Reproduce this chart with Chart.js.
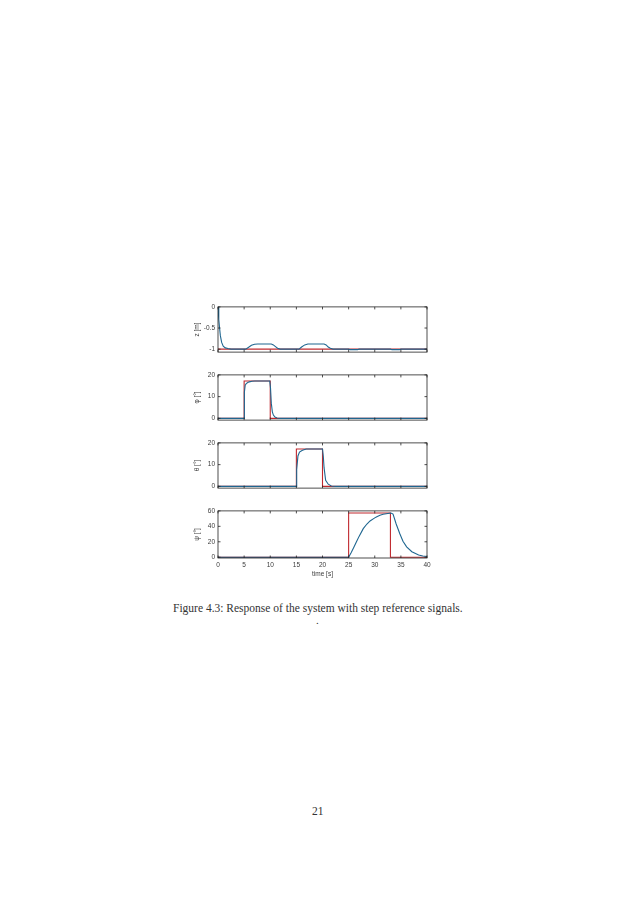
<!DOCTYPE html>
<html>
<head>
<meta charset="utf-8">
<script src="https://cdn.jsdelivr.net/npm/chart.js@4/dist/chart.umd.min.js"></script>
<style>
  body { margin: 0; background: #fff; width: 638px; height: 903px; position: relative; overflow: hidden; }
  canvas { position: absolute; }
  .txt { position: absolute; font-family: "Liberation Serif", serif; color: #333; white-space: nowrap; }
</style>
</head>
<body>
<canvas id="c-z" width="255" height="59"></canvas>
<canvas id="c-phi" width="255" height="59"></canvas>
<canvas id="c-theta" width="255" height="59"></canvas>
<canvas id="c-psi" width="255" height="76"></canvas>
<div class="txt" id="caption" style="top:602px;left:173px;font-size:11.5px">Figure 4.3: Response of the system with step reference signals.</div>
<div class="txt" style="top:614px;left:316px;font-size:11px">.</div>
<div class="txt" style="top:805px;left:312px;font-size:11.5px">21</div>

<script>
// shared x axis
const timeTicks = [0, 5, 10, 15, 20, 25, 30, 35, 40];

// z [m]
const zTicks = [-1, -0.5, 0];
const zRefT = [0, 40];
const zRefV = [-1, -1];
const zT = [0, 0.15, 0.3, 0.45, 0.7, 1.0, 1.4, 1.9, 2.5, 5.3, 5.8, 6.4, 7.0, 7.6, 10.2, 10.6, 11.0, 11.4, 11.9,
            15.5, 16.0, 16.6, 17.2, 17.6, 20.3, 20.7, 21.1, 21.5, 22.0, 25.0, 25.3, 26.7, 27.0, 33.0, 33.3, 34.7, 35.0, 40];
const zV = [0, -0.3, -0.5, -0.68, -0.84, -0.93, -0.97, -0.985, -1, -1, -0.96, -0.91, -0.885, -0.88, -0.88, -0.9, -0.94, -0.98, -1,
            -1, -0.95, -0.9, -0.88, -0.88, -0.88, -0.9, -0.95, -0.98, -1, -1, -1.012, -1.012, -1, -1, -1.012, -1.012, -1, -1];

// phi [deg]
const angTicks = [0, 10, 20];
const phiRefT = [0, 5, 5, 10, 10, 40];
const phiRefV = [0, 0, 17.19, 17.19, 0, 0];
const phiT = [0, 5, 5.05, 5.2, 5.4, 5.7, 6.0, 6.5, 7.0, 9.9, 10.05, 10.2, 10.4, 10.6, 10.9, 11.3, 12, 40];
const phiV = [0, 0, 12, 15.2, 16.0, 16.5, 16.8, 17.05, 17.2, 17.2, 14, 7, 3, 1.5, 0.6, 0.2, 0, 0];

// theta [deg]
const thetaRefT = [0, 15, 15, 20, 20, 40];
const thetaRefV = [0, 0, 17.19, 17.19, 0, 0];
const thetaT = [0, 15, 15.06, 15.3, 15.6, 16.0, 16.3, 16.9, 20.0, 20.15, 20.3, 20.6, 21.1, 21.7, 22.5, 40];
const thetaV = [0, 0, 7.7, 14, 15.8, 16.4, 16.7, 17.2, 17.2, 14, 8.6, 2.8, 1.0, 0.2, 0, 0];

// psi [deg]
const psiTicks = [0, 20, 40, 60];
const psiRefT = [0, 25, 25, 33, 33, 40];
const psiRefV = [0, 0, 57.3, 57.3, 0, 0];
const psiT = [0, 25, 25.5, 26, 26.5, 27, 27.8, 28.5, 29.1, 30, 30.4, 31, 31.6, 32.2, 32.8, 33, 33.2, 33.5, 34.1, 34.8,
              35.4, 36.1, 37.1, 38.4, 39.2, 40];
const psiV = [0, 0, 6, 13, 20, 27, 37, 43, 47, 51, 52.5, 54.3, 55.6, 56.4, 57, 57.2, 57, 55.8, 43, 30.4,
              20.7, 13.5, 7.1, 2.9, 1.6, 1.0];

const blue = '#1f6690';
const red = '#c0282e';
const tickFont = { family: 'Liberation Sans', size: 6.5 };

function pts(t, v) {
    return t.map((x, i) => ({ x: x, y: v[i] }));
}

// box and inward tick marks, MATLAB style
const boxTicks = {
    id: 'boxTicks',
    afterDraw(chart) {
        const ctx = chart.ctx;
        const a = chart.chartArea;
        const sx = chart.scales.x, sy = chart.scales.y;
        ctx.save();
        ctx.strokeStyle = '#222';
        ctx.lineWidth = 0.8;
        ctx.strokeRect(a.left, a.top, a.right - a.left, a.bottom - a.top);
        ctx.beginPath();
        sx.ticks.forEach(t => {
            const px = sx.getPixelForValue(t.value);
            ctx.moveTo(px, a.bottom); ctx.lineTo(px, a.bottom - 2.5);
            ctx.moveTo(px, a.top); ctx.lineTo(px, a.top + 2.5);
        });
        sy.ticks.forEach(t => {
            const py = sy.getPixelForValue(t.value);
            ctx.moveTo(a.left, py); ctx.lineTo(a.left + 2.5, py);
            ctx.moveTo(a.right, py); ctx.lineTo(a.right - 2.5, py);
        });
        ctx.stroke();
        ctx.restore();
    }
};

function subplot(id, top, resp, ref, yMin, yMax, yTicks, yTitle, last) {
    const el = document.getElementById(id);
    el.style.left = '185px';
    el.style.top = (top - 6) + 'px';
    new Chart(el, {
        type: 'line',
        data: {
            datasets: [
                { data: resp, borderColor: blue, borderWidth: 1.1 },
                { data: ref, borderColor: red, borderWidth: 1.1 },
            ]
        },
        options: {
            responsive: false,
            animation: false,
            devicePixelRatio: 1,
            layout: { padding: { top: 6, right: 13, bottom: last ? 0 : 5, left: 0 } },
            elements: { point: { radius: 0 }, line: { tension: 0 } },
            plugins: { legend: { display: false }, tooltip: { enabled: false } },
            scales: {
                x: {
                    type: 'linear',
                    min: 0,
                    max: 40,
                    afterBuildTicks: s => { s.ticks = timeTicks.map(v => ({ value: v })); },
                    afterFit: s => { s.height = last ? 22 : 0; },
                    grid: { display: false, drawTicks: false },
                    border: { display: false },
                    ticks: { display: last, padding: 3, font: tickFont, color: '#3a3a3a', maxRotation: 0 },
                    title: { display: last, text: 'time [s]', font: tickFont, color: '#3a3a3a', padding: { top: 0, bottom: 2 } },
                },
                y: {
                    min: yMin,
                    max: yMax,
                    afterBuildTicks: s => { s.ticks = yTicks.map(v => ({ value: v })); },
                    afterFit: s => { s.width = 33; },
                    grid: { display: false, drawTicks: false },
                    border: { display: false },
                    ticks: { padding: 3, font: tickFont, color: '#3a3a3a', callback: v => String(v) },
                    title: { display: true, text: yTitle, font: tickFont, color: '#3a3a3a', padding: { top: 8, bottom: 0 } },
                }
            }
        },
        plugins: [boxTicks]
    });
}

subplot('c-z', 306, pts(zT, zV), pts(zRefT, zRefV), -1.07, 0, zTicks, 'z [m]', false);
subplot('c-phi', 374, pts(phiT, phiV), pts(phiRefT, phiRefV), -0.8, 20, angTicks, 'φ [°]', false);
subplot('c-theta', 442, pts(thetaT, thetaV), pts(thetaRefT, thetaRefV), -0.8, 20, angTicks, 'θ [°]', false);
subplot('c-psi', 510, pts(psiT, psiV), pts(psiRefT, psiRefV), -1, 60, psiTicks, 'ψ [°]', true);

// stretch caption to the printed width
const cap = document.getElementById('caption');
cap.style.transformOrigin = '0 0';
cap.style.transform = 'scaleX(' + (290 / cap.offsetWidth) + ')';
</script>
</body>
</html>
